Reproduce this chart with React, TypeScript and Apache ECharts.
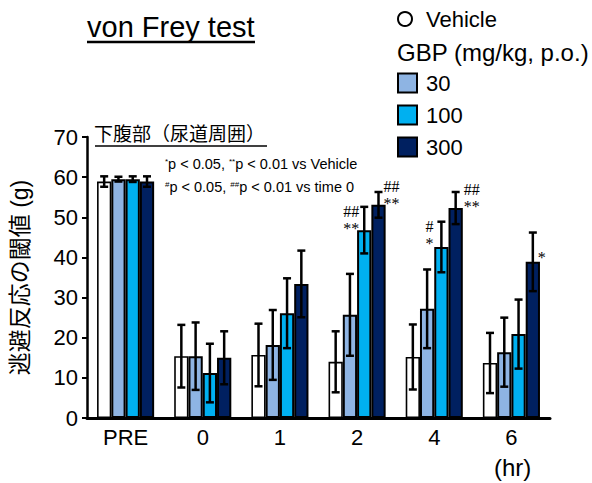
import React, { useEffect, useRef } from 'react';
import * as echarts from 'echarts';

const categories = ['PRE', '0', '1', '2', '4', '6'];
const seriesNames = ['Vehicle', '30', '100', '300'];
const vehicleMean = [58.9, 15.4, 15.7, 14.0, 15.2, 13.7];
const vehicleSem = [1.3, 7.8, 7.8, 7.6, 8.1, 7.5];
const gbp30Mean = [59.5, 15.4, 18.2, 25.7, 27.2, 16.4];
const gbp30Sem = [0.6, 8.4, 8.7, 10.2, 9.8, 8.6];
const gbp100Mean = [59.5, 11.2, 26.1, 46.8, 42.6, 20.9];
const gbp100Sem = [0.7, 7.3, 8.7, 5.8, 6.3, 8.6];
const gbp300Mean = [58.9, 15.0, 33.4, 53.1, 52.3, 38.9];
const gbp300Sem = [1.3, 6.6, 8.3, 3.2, 4.0, 7.3];
const yMin = 0;
const yMax = 70;
const yInterval = 10;

// significance marks: category, series index, text
const sigMarks = [
  { cat: '2', series: 2, text: '##\n**' },
  { cat: '2', series: 3, text: '##\n**' },
  { cat: '4', series: 2, text: '#\n*' },
  { cat: '4', series: 3, text: '##\n**' },
  { cat: '6', series: 3, text: '*' },
];

const sigPlacement = [
  { align: 'right', dx: -5, dy: -4 },
  { align: 'left', dx: 5, dy: -14 },
  { align: 'right', dx: -8, dy: -4 },
  { align: 'left', dx: 8, dy: -11 },
  { align: 'left', dx: 5, dy: 16 },
];

const means = [vehicleMean, gbp30Mean, gbp100Mean, gbp300Mean];
const sems = [vehicleSem, gbp30Sem, gbp100Sem, gbp300Sem];
const colors = ['#FFFFFF', '#8EB4E3', '#00B0F0', '#002060'];
const FONT = '"Liberation Sans", Arial, "Noto Sans CJK JP", sans-serif';
const SERIF = '"Liberation Serif", "Times New Roman", serif';
const GAP_RATIO = 0.26;

export default function App() {
  const ref = useRef<HTMLDivElement>(null);
  useEffect(() => {
    if (!ref.current) return;
    const chart = echarts.init(ref.current, undefined, { renderer: 'svg' });

    const barSeries = seriesNames.map((name, s) => ({
      name,
      type: 'bar',
      data: means[s],
      barGap: '0%',
      barCategoryGap: (GAP_RATIO * 100) + '%',
      itemStyle: { color: colors[s], borderColor: '#000', borderWidth: s === 0 ? 1.6 : 2 },
      emphasis: { disabled: true },
      z: 2,
    }));

    const errData: number[][] = [];
    means.forEach((arr, s) => arr.forEach((v, c) => errData.push([c, v, sems[s][c], s])));

    const barX = (api: any, c: number, s: number, v: number) => {
      const pt = api.coord([c, v]);
      const bandW = api.size([1, 0])[0];
      const barW = (bandW * (1 - GAP_RATIO)) / 4;
      return { x: pt[0] + (s - 1.5) * barW, y: pt[1] };
    };

    const errSeries = {
      type: 'custom',
      name: 'err',
      data: errData,
      encode: { x: 0, y: 1 },
      z: 5,
      silent: true,
      renderItem: (params: any, api: any) => {
        const c = api.value(0);
        const v = api.value(1);
        const e = api.value(2);
        const s = api.value(3);
        const p = barX(api, c, s, v);
        const yTop = api.coord([c, v + e])[1];
        const yBot = api.coord([c, v - e])[1];
        const cap = 4;
        const st = { stroke: '#000', lineWidth: 2.5 };
        return {
          type: 'group',
          children: [
            { type: 'line', shape: { x1: p.x, y1: yTop, x2: p.x, y2: yBot }, style: st },
            { type: 'line', shape: { x1: p.x - cap, y1: yTop, x2: p.x + cap, y2: yTop }, style: st },
            { type: 'line', shape: { x1: p.x - cap, y1: yBot, x2: p.x + cap, y2: yBot }, style: st },
          ],
        };
      },
    };

    const sigData = sigMarks.map((m, i) => {
      const c = categories.indexOf(m.cat);
      return [c, means[m.series][c] + sems[m.series][c], m.series, i];
    });

    const sigSeries = {
      type: 'custom',
      name: 'sig',
      data: sigData,
      encode: { x: 0, y: 1 },
      z: 6,
      silent: true,
      renderItem: (params: any, api: any) => {
        const c = api.value(0);
        const top = api.value(1);
        const s = api.value(2);
        const i = api.value(3);
        const p = barX(api, c, s, top);
        const pl = sigPlacement[i];
        return {
          type: 'text',
          x: p.x + pl.dx,
          y: p.y + pl.dy,
          style: {
            text: sigMarks[i].text,
            fill: '#000',
            fontSize: 16,
            fontFamily: SERIF,
            lineHeight: 17,
            align: pl.align,
            textAlign: pl.align,
            verticalAlign: 'top',
            textVerticalAlign: 'top',
          },
        };
      },
    };

    const option: any = {
      animation: false,
      grid: { left: 82, right: 42, top: 137, bottom: 65, containLabel: false },
      xAxis: {
        type: 'category',
        data: categories,
        axisLine: { lineStyle: { color: '#000', width: 3 } },
        axisTick: { alignWithLabel: true, length: 6, lineStyle: { color: '#000', width: 2.5 } },
        axisLabel: { color: '#000', fontSize: 22, fontFamily: FONT, margin: 8 },
      },
      yAxis: {
        type: 'value',
        min: yMin,
        max: yMax,
        interval: yInterval,
        name: '逃避反応の閾値 (g)',
        nameLocation: 'middle',
        nameRotate: 90,
        nameGap: 56,
        nameTextStyle: { color: '#000', fontSize: 23, fontFamily: FONT },
        axisLine: { show: true, lineStyle: { color: '#000', width: 2.5 } },
        axisTick: { show: true, length: 5, lineStyle: { color: '#000', width: 2 } },
        axisLabel: { color: '#000', fontSize: 22, fontFamily: FONT, margin: 9 },
        splitLine: { show: false },
      },
      legend: [
        {
          data: ['Vehicle'],
          left: 392,
          top: 3,
          orient: 'vertical',
          icon: 'circle',
          itemWidth: 14,
          itemHeight: 14,
          selectedMode: false,
          textStyle: { color: '#000', fontSize: 22, fontFamily: FONT, padding: [0, 0, 0, 9] },
        },
        {
          data: ['30', '100', '300'],
          left: 392,
          top: 67,
          orient: 'vertical',
          icon: 'rect',
          itemWidth: 19,
          itemHeight: 19,
          itemGap: 10,
          selectedMode: false,
          textStyle: { color: '#000', fontSize: 22, fontFamily: FONT, padding: [0, 0, 0, 4] },
        },
      ],
      graphic: [
        { type: 'text', left: 87, top: 12, style: { text: 'von Frey test', fontSize: 29, fontFamily: FONT, fill: '#000' } },
        { type: 'line', shape: { x1: 87, y1: 42, x2: 255, y2: 42 }, style: { stroke: '#000', lineWidth: 2.5 } },
        { type: 'text', left: 94, top: 125, style: { text: '下腹部（尿道周囲）', fontSize: 19, fontFamily: FONT, fill: '#000' } },
        { type: 'line', shape: { x1: 95, y1: 146, x2: 267, y2: 146 }, style: { stroke: '#000', lineWidth: 1.5 } },
        {
          type: 'text', left: 165, top: 157,
          style: {
            text: '{sup|*}p < 0.05, {sup|**}p < 0.01 vs Vehicle',
            fontSize: 14.5, fontFamily: FONT, fill: '#000',
            rich: { sup: { fontSize: 8, fontFamily: FONT, fill: '#000', verticalAlign: 'top' } },
          },
        },
        {
          type: 'text', left: 165, top: 180,
          style: {
            text: '{sup|#}p < 0.05, {sup|##}p < 0.01 vs time 0',
            fontSize: 14.5, fontFamily: FONT, fill: '#000',
            rich: { sup: { fontSize: 8, fontFamily: FONT, fill: '#000', verticalAlign: 'top' } },
          },
        },
        { type: 'text', left: 397, top: 40, style: { text: 'GBP (mg/kg, p.o.)', fontSize: 24, fontFamily: FONT, fill: '#000' } },
        { type: 'text', left: 494, top: 455, style: { text: '(hr)', fontSize: 24, fontFamily: FONT, fill: '#000' } },
      ],
      series: [...barSeries, errSeries, sigSeries],
    };
    chart.setOption(option);
    return () => chart.dispose();
  }, []);
  return <div ref={ref} style={{ width: 592, height: 483, position: 'absolute', left: 0, top: 0 }} />;
}
